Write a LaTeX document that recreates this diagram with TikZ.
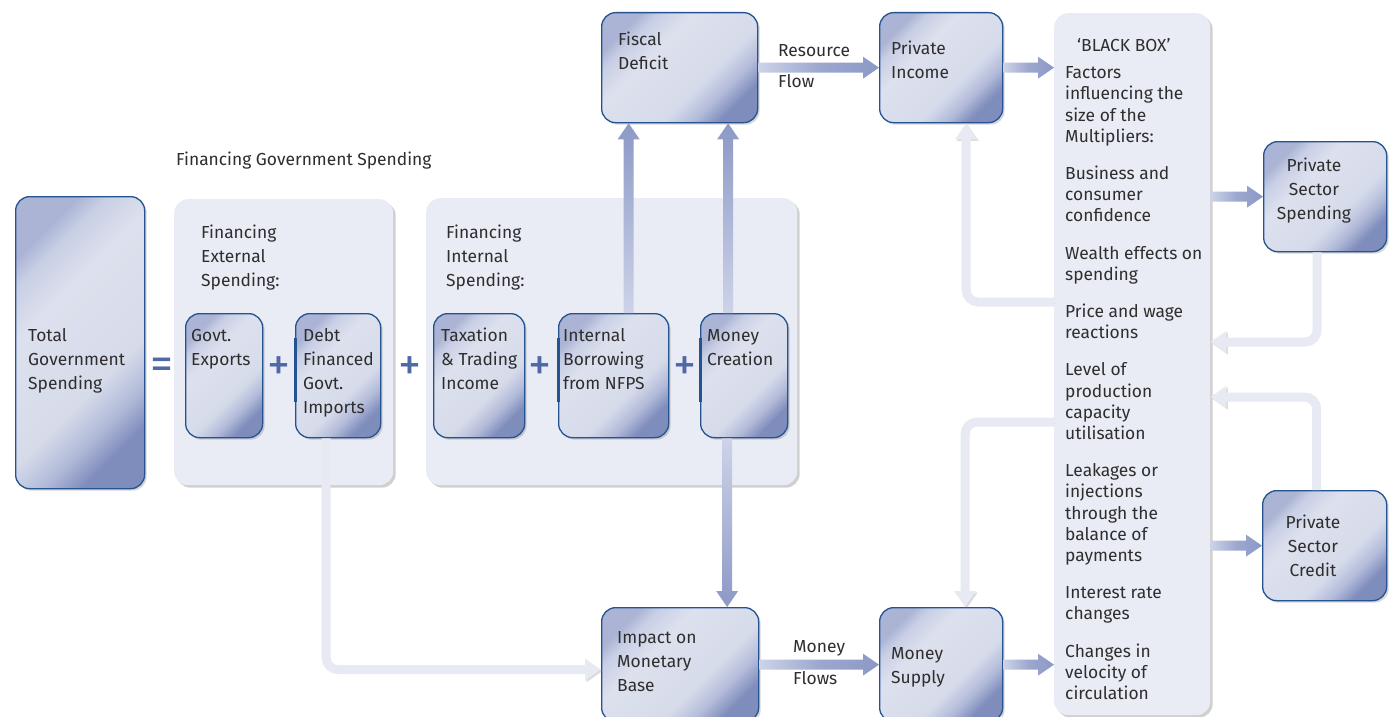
\documentclass[tikz,border=0pt]{standalone}
\usepackage{fontspec}
\setmainfont{Fira Sans}
\usetikzlibrary{arrows.meta,shadows,calc}

\definecolor{edge}{HTML}{24538F}
\definecolor{panel}{HTML}{E9ECF4}
\definecolor{flowdark}{HTML}{8C99C6}
\definecolor{flowlight}{HTML}{CDD3E8}
\definecolor{pale}{HTML}{E7EAF2}
\definecolor{ink}{HTML}{2E2E2E}
\definecolor{signc}{HTML}{5069A6}
\definecolor{fillA}{HTML}{7F8DBC}
\definecolor{fillB}{HTML}{B3BBDA}
\definecolor{fillC}{HTML}{D6DBEA}
\definecolor{fillD}{HTML}{DDE1EE}
\definecolor{fillE}{HTML}{C9CFE5}
\definecolor{fillF}{HTML}{ABB4D4}

% diagonal box fill: dark lower-right corner, wide light centre, blue upper-left corner
\pgfdeclareverticalshading{boxfill}{100bp}{%
  color(0bp)=(fillA); color(25bp)=(fillA); color(32bp)=(fillB);
  color(40bp)=(fillC); color(61bp)=(fillD); color(70bp)=(fillE);
  color(75bp)=(fillF); color(100bp)=(fillF)}

% shaded block arrows between two anchors
\newcommand\flowright[2]{%
  \shade[left color=flowlight, right color=flowdark, middle color=flowdark!75!flowlight]
    let \p1=(#1), \p2=(#2) in
    (\x1,\y1+5pt) -- (\x2-16pt,\y1+5pt) -- (\x2-16pt,\y1+11pt) -- (\x2,\y1)
    -- (\x2-16pt,\y1-11pt) -- (\x2-16pt,\y1-5pt) -- (\x1,\y1-5pt) -- cycle;}
\newcommand\flowup[2]{%
  \shade[top color=flowdark, middle color=flowdark, bottom color=flowlight]
    let \p1=(#1), \p2=(#2) in
    (\x1-5pt,\y1) -- (\x1-5pt,\y2-16pt) -- (\x1-11pt,\y2-16pt) -- (\x1,\y2)
    -- (\x1+11pt,\y2-16pt) -- (\x1+5pt,\y2-16pt) -- (\x1+5pt,\y1) -- cycle;}
\newcommand\flowdown[2]{%
  \shade[top color=flowlight, middle color=flowdark, bottom color=flowdark]
    let \p1=(#1), \p2=(#2) in
    (\x1-5pt,\y1) -- (\x1-5pt,\y2+16pt) -- (\x1-11pt,\y2+16pt) -- (\x1,\y2)
    -- (\x1+11pt,\y2+16pt) -- (\x1+5pt,\y2+16pt) -- (\x1+5pt,\y1) -- cycle;}

\begin{document}
\begin{tikzpicture}[x=1pt,y=-1pt,
  box/.style={draw=edge, line width=1.3pt, rounded corners=14pt,
    shading=boxfill, shading angle=45,
    drop shadow={shadow xshift=2pt, shadow yshift=-2pt, opacity=.22, fill=black!70},
    anchor=north west, inner sep=0pt},
  panelbox/.style={fill=panel, rounded corners=14pt, anchor=north west, inner sep=0pt,
    drop shadow={shadow xshift=2.5pt, shadow yshift=-2.5pt, opacity=.3, fill=black!60}},
  txt/.style={anchor=north west, inner sep=0pt, align=left, text=ink,
    font=\fontsize{17.4}{24}\selectfont},
  ctxt/.style={txt, anchor=north, align=center},
  bbtxt/.style={txt, font=\fontsize{17.4}{21.2}\selectfont},
  signs/.style={text=signc, inner sep=0pt, font=\fontsize{46}{46}\selectfont},
  paleflow/.style={line width=9pt, draw=pale, rounded corners=12pt,
    -{Triangle[width=21pt,length=16pt]},
    preaction={draw=black!45, opacity=.3, transform canvas={shift={(1.5pt,-1.5pt)}}}},
  leftbar/.style={draw=edge, line width=3pt}
]
\useasboundingbox (0,0) rectangle (1389,717);
\clip (0,0) rectangle (1389,717);
\fill[white] (0,0) rectangle (1389,717);

% grouping panels
\node[panelbox, minimum width=219pt, minimum height=286pt] (ext) at (174,199) {};
\node[panelbox, minimum width=371pt, minimum height=287pt] (int) at (426,198) {};
\node[panelbox, minimum width=156pt, minimum height=702pt] (bb) at (1054,13) {};

% boxes
\node[box, minimum width=129pt, minimum height=292pt] (tgs) at (15,196) {};
\node[box, minimum width=77pt, minimum height=124pt] (ge) at (185,313) {};
\node[box, minimum width=85pt, minimum height=124pt] (dfi) at (295,313) {};
\node[box, minimum width=91pt, minimum height=124pt] (tax) at (433,313) {};
\node[box, minimum width=110pt, minimum height=124pt] (ib) at (558,313) {};
\node[box, minimum width=87pt, minimum height=124pt] (mc) at (700,313) {};
\node[box, minimum width=156pt, minimum height=110pt] (fd) at (601,12) {};
\node[box, minimum width=123pt, minimum height=110pt] (pi) at (879,12) {};
\node[box, minimum width=123pt, minimum height=110pt] (pss) at (1263,141) {};
\node[box, minimum width=124pt, minimum height=110pt] (psc) at (1262,490) {};
\node[box, minimum width=157pt, minimum height=114pt] (im) at (601,607) {};
\node[box, minimum width=123pt, minimum height=114pt] (ms) at (879,607) {};

% heavier left edges
\draw[leftbar] (dfi.west |- 0,338) -- (dfi.west |- 0,402);
\draw[leftbar] (ib.west |- 0,338) -- (ib.west |- 0,402);
\draw[leftbar] (mc.west |- 0,338) -- (mc.west |- 0,402);

% feedback flows
\draw[paleflow] ($(dfi.south)+(-12,0)$) |- ($(im.west)+(0,5)$);
\draw[paleflow] (bb.west |- 0,302) -| ($(pi.south)+(25,0)$);
\draw[paleflow] (bb.west |- 0,422) -| ($(ms.north)+(24,0)$);
\draw[paleflow] ($(pss.south)+(-8,0)$) |- (bb.east |- 0,342);
\draw[paleflow] ($(psc.north)+(-8,0)$) |- (bb.east |- 0,397);

% main flows
\flowup{$(ib.north)+(15,0)$}{fd.south}
\flowup{$(mc.north)+(-16,0)$}{fd.south}
\flowdown{$(mc.south)+(-17,0)$}{im.north}
\flowright{fd.east}{pi.west}
\flowright{pi.east}{pi.east -| bb.west}
\flowright{pss.west -| bb.east}{pss.west}
\flowright{psc.west -| bb.east}{psc.west}
\flowright{im.east}{ms.west}
\flowright{ms.east}{ms.east -| bb.west}

% operators
\node[signs] (eq) at (162,369) {=};
\node[signs] (p1) at (279,369) {+};
\node[signs] (p2) at (410,369) {+};
\node[signs] (p3) at (540,369) {+};
\node[signs] (p4) at (685,369) {+};

% labels
\node[txt] (lgs) at (176,148) {\strut Financing Government Spending};
\node[txt] (ltgs) at (28,324) {\strut Total\\Government\\Spending};
\node[txt] (lext) at (201,221) {\strut Financing\\External\\Spending:};
\node[txt] (lint) at (446,221) {\strut Financing\\Internal\\Spending:};
\node[txt] (lge) at (191,324) {\strut Govt.\\Exports};
\node[txt] (ldfi) at (303,324) {\strut Debt\\Financed\\Govt.\\Imports};
\node[txt] (ltax) at (441,324) {\strut Taxation\\\& Trading\\Income};
\node[txt] (lib) at (563,324) {\strut Internal\\Borrowing\\from NFPS};
\node[txt] (lmc) at (707,324) {\strut Money\\Creation};
\node[txt] (lfd) at (618,29) {\strut Fiscal\\Deficit};
\node[txt] (lpi) at (891,37) {\strut Private\\Income};
\node[txt] (lrf) at (778,39) {\strut Resource\\[8pt]Flow};
\node[txt] (lim) at (617,626) {\strut Impact on\\Monetary\\Base};
\node[txt] (lmf) at (793,635) {\strut Money\\[8pt]Flows};
\node[txt] (lms) at (891,642) {\strut Money\\Supply};
\node[ctxt] (lpss) at (1314,154) {\strut Private\\Sector\\Spending};
\node[ctxt] (lpsc) at (1313,511) {\strut Private\\Sector\\Credit};
\node[bbtxt] (lbbh) at (1077,36) {\strut ‘BLACK BOX’};
\node[bbtxt] (lbb) at (1065,63.7) {\strut Factors\\influencing the\\size of the\\Multipliers:\\[16pt]
  Business and\\consumer\\confidence\\[16pt]
  Wealth effects on\\spending\\[16pt]
  Price and wage\\reactions\\[16pt]
  Level of\\production\\capacity\\utilisation\\[16pt]
  Leakages or\\injections\\through the\\balance of\\payments\\[16pt]
  Interest rate\\changes\\[16pt]
  Changes in\\velocity of\\circulation};
\end{tikzpicture}
\end{document}
